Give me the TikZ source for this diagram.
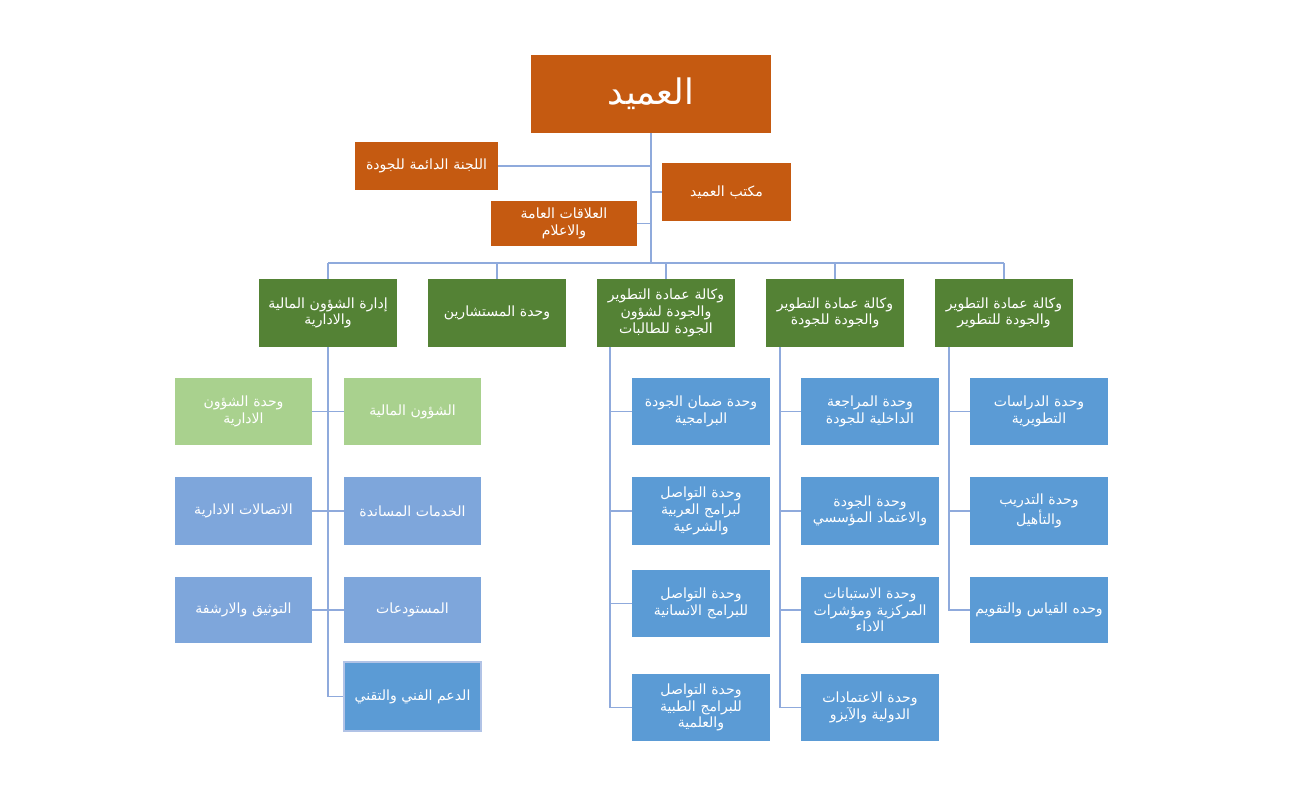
\documentclass[tikz,border=0pt]{standalone}
\usepackage{fontspec}
\newfontfamily\arabicfont[Script=Arabic]{DejaVu Sans}
\TeXXeTstate=1
\newcommand\RL[1]{\beginR#1\endR}
\definecolor{orng}{HTML}{C55A11}
\definecolor{grn}{HTML}{548235}
\definecolor{lgrn}{HTML}{A9D18E}
\definecolor{blu}{HTML}{5B9BD5}
\definecolor{lblu}{HTML}{7EA6DB}
\definecolor{ln}{HTML}{8FAADC}
\begin{document}
\begin{tikzpicture}[x=0.02cm,y=-0.02cm,
  bx/.style={inner sep=1pt,text=white,align=center,font=\arabicfont\fontsize{8}{9.5}\selectfont},
  conn/.style={draw=ln,line width=0.8pt}]
\useasboundingbox (0,0) rectangle (1295,794);
\newcommand\bx[7]{\node[bx,fill=#6,minimum width={(#4-#2)*0.02cm},minimum height={(#5-#3)*0.02cm},text width={(#4-#2)*0.02cm-6pt}] (#1) at ({(#2+#4)/2},{(#3+#5)/2}) {#7};}
% top
\node[bx,fill=orng,minimum width=4.8cm,minimum height=1.56cm,font=\arabicfont\fontsize{20}{24}\selectfont] (dean) at (651,94) {\RL{العميد}};
\bx{lajna}{355}{142}{498}{190}{orng}{\RL{اللجنة الدائمة للجودة}}
\bx{office}{662}{163}{791}{221}{orng}{\RL{مكتب العميد}}
\bx{pr}{491}{201}{637}{246}{orng}{\RL{العلاقات العامة}\\\RL{والاعلام}}
\coordinate (bus) at (651,263);
\coordinate (busL) at (328,263);
\coordinate (busR) at (1004,263);
\draw[conn] (dean.south) -- (bus);
\draw[conn] (busL) -- (busR);
\draw[conn] (lajna.east) -- (lajna.east -| bus);
\draw[conn] (office.west) -- (office.west -| bus);
\draw[conn] (pr.east) -- (pr.east -| bus);
% level 2
\bx{adm}{259}{279}{397}{347}{grn}{\RL{إدارة الشؤون المالية}\\\RL{والادارية}}
\bx{mus}{428}{279}{566}{347}{grn}{\RL{وحدة المستشارين}}
\bx{v3}{597}{279}{735}{347}{grn}{\RL{وكالة عمادة التطوير}\\\RL{والجودة لشؤون}\\\RL{الجودة للطالبات}}
\bx{v2}{766}{279}{904}{347}{grn}{\RL{وكالة عمادة التطوير}\\\RL{والجودة للجودة}}
\bx{v1}{935}{279}{1073}{347}{grn}{\RL{وكالة عمادة التطوير}\\\RL{والجودة للتطوير}}
\foreach \n in {adm,mus,v3,v2,v1}{\draw[conn] (\n.north) -- (\n.north |- bus);}
% admin children
\bx{aL1}{175}{378}{312}{445}{lgrn}{\RL{وحدة الشؤون}\\\RL{الادارية}}
\bx{aR1}{344}{378}{481}{445}{lgrn}{\RL{الشؤون المالية}}
\bx{aL2}{175}{477}{312}{545}{lblu}{\RL{الاتصالات الادارية}}
\bx{aR2}{344}{477}{481}{545}{lblu}{\RL{الخدمات المساندة}}
\bx{aL3}{175}{577}{312}{643}{lblu}{\RL{التوثيق والارشفة}}
\bx{aR3}{344}{577}{481}{643}{lblu}{\RL{المستودعات}}
\node[bx,fill=blu,draw=ln!70!white,line width=1pt,minimum width={137*0.02cm},minimum height={69*0.02cm}] (aR4) at (412.5,696.5) {\RL{الدعم الفني والتقني}};
\coordinate (aend) at (328,696.5);
\draw[conn] (adm.south -| aend) -- (aend) -- (aR4.west);
\foreach \i in {1,2,3}{\draw[conn] (aL\i.east) -- (aR\i.west);}
% v3 children
\bx{c1}{632}{378}{770}{445}{blu}{\RL{وحدة ضمان الجودة}\\\RL{البرامجية}}
\bx{c2}{632}{477}{770}{545}{blu}{\RL{وحدة التواصل}\\\RL{لبرامج العربية}\\\RL{والشرعية}}
\bx{c3}{632}{570}{770}{637}{blu}{\RL{وحدة التواصل}\\\RL{للبرامج الانسانية}}
\bx{c4}{632}{674}{770}{741}{blu}{\RL{وحدة التواصل}\\\RL{للبرامج الطبية}\\\RL{والعلمية}}
\coordinate (cs) at (610,347);
\draw[conn] (cs) -- (cs |- c4.west) -- (c4.west);
\foreach \i in {1,2,3}{\draw[conn] (c\i.west -| cs) -- (c\i.west);}
% v2 children
\bx{d1}{801}{378}{939}{445}{blu}{\RL{وحدة المراجعة}\\\RL{الداخلية للجودة}}
\bx{d2}{801}{477}{939}{545}{blu}{\RL{وحدة الجودة}\\\RL{والاعتماد المؤسسي}}
\bx{d3}{801}{577}{939}{643}{blu}{\RL{وحدة الاستبانات}\\\RL{المركزية ومؤشرات}\\\RL{الاداء}}
\bx{d4}{801}{674}{939}{741}{blu}{\RL{وحدة الاعتمادات}\\\RL{الدولية والآيزو}}
\coordinate (ds) at (780,347);
\draw[conn] (ds) -- (ds |- d4.west) -- (d4.west);
\foreach \i in {1,2,3}{\draw[conn] (d\i.west -| ds) -- (d\i.west);}
% v1 children
\bx{e1}{970}{378}{1108}{445}{blu}{\RL{وحدة الدراسات}\\\RL{التطويرية}}
\bx{e2}{970}{477}{1108}{545}{blu}{\RL{وحدة التدريب}\\\RL{والتأهيل}}
\bx{e3}{970}{577}{1108}{643}{blu}{\RL{وحده القياس والتقويم}}
\coordinate (es) at (949,347);
\draw[conn] (es) -- (es |- e3.west) -- (e3.west);
\foreach \i in {1,2}{\draw[conn] (e\i.west -| es) -- (e\i.west);}
\end{tikzpicture}
\end{document}
